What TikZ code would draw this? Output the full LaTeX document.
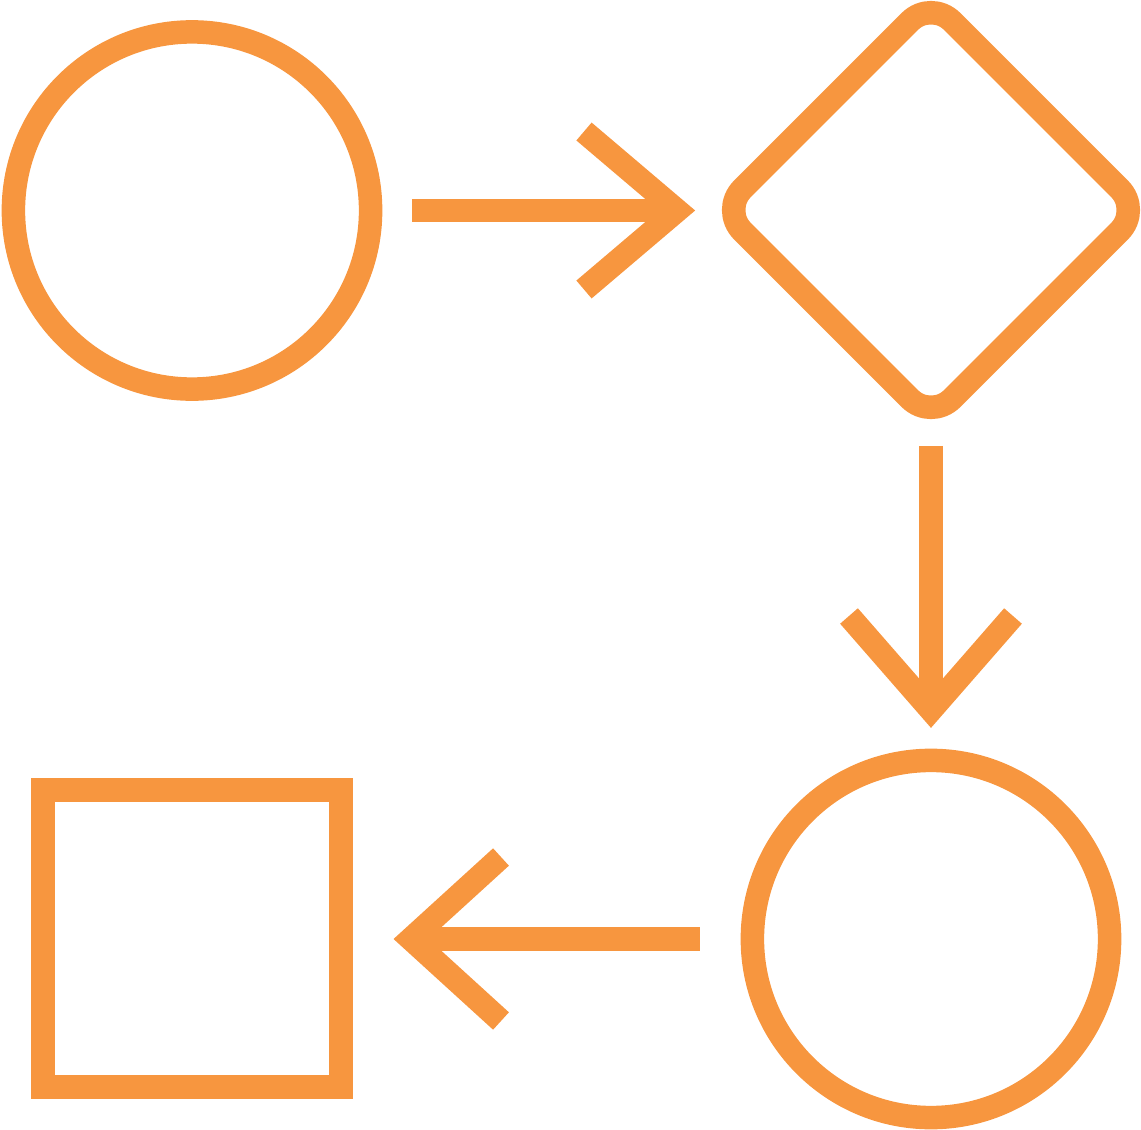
\documentclass[tikz,border=0pt]{standalone}
\usetikzlibrary{shapes.geometric}
\definecolor{flowOrange}{HTML}{F7963F}
\begin{document}
\begin{tikzpicture}
  [x=0.01cm, y=-0.01cm,
    every shape/.style={
      draw=flowOrange,
      line width=0.235cm,
      inner sep=0pt
    },
    round step/.style={
      every shape/.try,
      circle,
      minimum size=3.57cm
    },
    decision/.style={
      every shape/.try,
      diamond,
      rounded corners=0.3cm,
      minimum size=4.29cm
    },
    box step/.style={
      every shape/.try,
      rectangle,
      minimum width=2.98cm,
      minimum height=2.97cm
    },
    shaft/.style={
      draw=flowOrange,
      line width=0.235cm,
      line cap=butt
    },
    barb/.style={
      draw=flowOrange,
      line width=0.235cm,
      line cap=butt,
      line join=miter
    },
  ]
\useasboundingbox (0,0) rectangle (1141,1130);

% Draw the four shapes
\node [round step] (start) at (192,210.5) {};
\node [decision] (check) at (931,210) {};
\node [round step] (act) at (931,939) {};
\node [box step] (finish) at (192,938.5) {};

% Arrow tips
\coordinate (tip-1) at (677,210.5);
\coordinate (tip-2) at (931,710);
\coordinate (tip-3) at (411,939);

% Connect the shapes
\draw [shaft, shorten <=0.3cm] (start.east) -- (tip-1);
\draw [shaft, shorten <=0.095cm] (check.south) -- (tip-2);
\draw [shaft, shorten <=0.4075cm] (act.west) -- (tip-3);

% Draw the barbs
\draw [barb] (tip-1) ++(-93,-79) -- (tip-1) -- ++(-93,79);
\draw [barb] (tip-2) ++(-82,-94) -- (tip-2) -- ++(82,-94);
\draw [barb] (tip-3) ++(90,-82) -- (tip-3) -- ++(90,82);
\end{tikzpicture}
\end{document}
